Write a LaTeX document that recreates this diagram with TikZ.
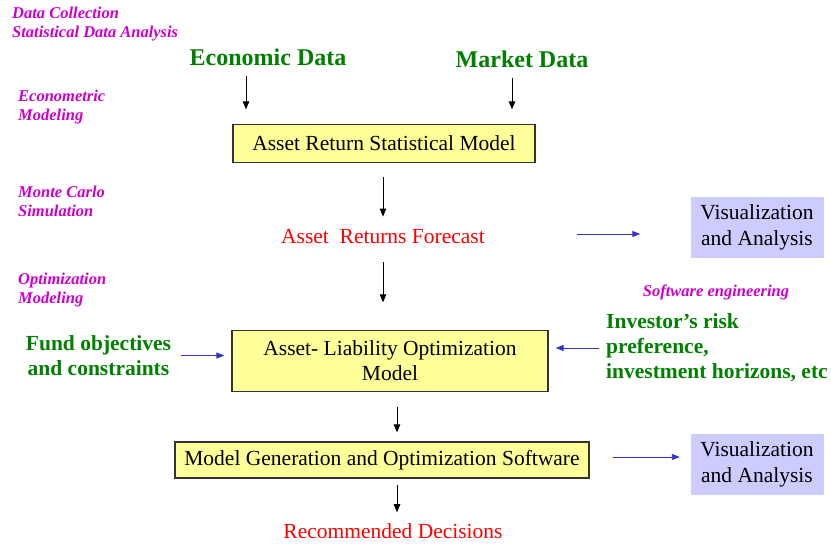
\documentclass[tikz,border=0pt]{standalone}
\usepackage{fontspec}
\setmainfont{Liberation Serif}
\usetikzlibrary{arrows.meta}

\definecolor{stagepink}{RGB}{204,0,204}
\definecolor{datagreen}{RGB}{0,128,0}
\definecolor{boxyellow}{RGB}{255,255,153}
\definecolor{vislav}{RGB}{204,204,255}
\definecolor{linkblue}{RGB}{51,51,204}

\tikzset{
  stage/.style={font=\fontsize{16.5}{19}\selectfont\bfseries\itshape, text=stagepink,
                align=left, anchor=west, inner sep=0pt},
  source/.style={font=\fontsize{24}{28}\selectfont\bfseries, text=datagreen, inner sep=0pt},
  goal/.style={font=\fontsize{21.5}{25}\selectfont\bfseries, text=datagreen, inner sep=0pt},
  outcome/.style={font=\fontsize{21.5}{25}\selectfont, text=red, inner sep=0pt},
  modelbox/.style={draw=black!80, line width=1.3pt, fill=boxyellow, align=center,
                   font=\fontsize{21.5}{25}\selectfont, inner sep=0pt},
  visbox/.style={fill=vislav, align=center, font=\fontsize{21.5}{26}\selectfont,
                 minimum width=133pt, minimum height=61pt, inner sep=0pt},
  flow/.style={-{Triangle[length=8pt,width=6.5pt]}, black, line width=0.8pt},
  link/.style={-{Triangle[length=8pt,width=6pt]}, linkblue, line width=0.9pt}
}

\begin{document}
\begin{tikzpicture}[x=1pt,y=-1pt]
\useasboundingbox (0,0) rectangle (831,547);

% process stage labels
\node[stage] (dc) at (12,24) {Data Collection\\Statistical Data Analysis};
\node[stage] (em) at (18,107.5) {Econometric\\Modeling};
\node[stage] (mc) at (18,201.5) {Monte Carlo\\Simulation};
\node[stage] (om) at (18,290) {Optimization\\Modeling};
\node[stage, anchor=center] (se) at (716,292) {Software engineering};

% data sources
\node[source] (econ) at (268,57) {Economic Data};
\node[source] (mkt) at (522,59) {Market Data};

% main chain
\node[modelbox, minimum width=302pt, minimum height=38pt] (arsm) at (384,143.5)
  {Asset Return Statistical Model};
\node[outcome] (arf) at (383,237) {Asset\ \ Returns Forecast};
\node[modelbox, minimum width=316pt, minimum height=61pt] (alom) at (390,361)
  {Asset- Liability Optimization\\Model};
\node[modelbox, minimum width=414pt, minimum height=36pt] (mgos) at (382,460)
  {Model Generation and Optimization Software};
\node[outcome] (rd) at (393,531) {Recommended Decisions};

% side inputs and outputs
\node[visbox] (vis1) at (757,227.5) {Visualization\\and Analysis};
\node[visbox] (vis2) at (757,464.5) {Visualization\\and Analysis};
\node[goal, align=center] (fund) at (98.5,355.5) {Fund objectives\\and constraints};
\node[goal, align=left, anchor=west] (inv) at (606,348)
  {Investor’s risk\\preference,\\investment horizons, etc};

% vertical flow
\draw[flow, shorten <=10pt, shorten >=14.5pt] ([xshift=-22pt]econ.south) -- ([xshift=-138pt]arsm.north);
\draw[flow, shorten <=10pt, shorten >=14.5pt] ([xshift=-10pt]mkt.south) -- ([xshift=128pt]arsm.north);
\draw[flow, shorten <=13.5pt, shorten >=13pt] ([xshift=-1pt]arsm.south) -- (arf.north);
\draw[flow, shorten <=18pt, shorten >=27.5pt] (arf.south) -- ([xshift=-7pt]alom.north);
\draw[flow, shorten <=14.5pt, shorten >=9pt] ([xshift=7pt]alom.south) -- ([xshift=15pt]mgos.north);
\draw[flow, shorten <=6pt, shorten >=11pt] ([xshift=15pt]mgos.south) -- ([xshift=4pt]rd.north);

% horizontal links
\coordinate (arf-out) at ([yshift=3pt]arf.east);
\coordinate (mgos-out) at ([yshift=3pt]mgos.east);
\draw[link, shorten <=92pt, shorten >=50pt] (arf-out) -- (arf-out -| vis1.west);
\draw[link, shorten <=23pt, shorten >=10.5pt] (mgos-out) -- (mgos-out -| vis2.west);
\draw[link, shorten <=10pt, shorten >=7pt] (fund.east) -- (fund.east -| alom.west);
\draw[link, shorten <=7pt, shorten >=7pt] (inv.west) -- (inv.west -| alom.east);
\end{tikzpicture}
\end{document}
